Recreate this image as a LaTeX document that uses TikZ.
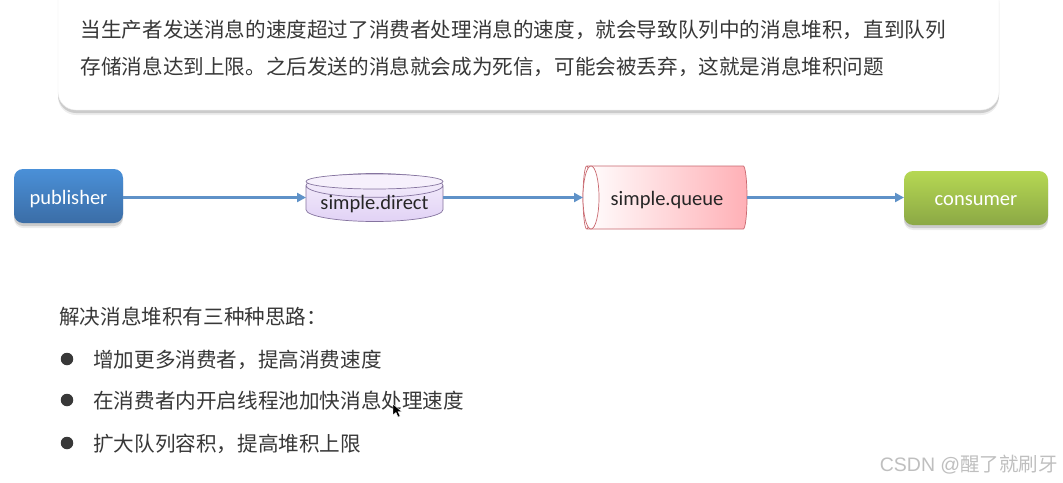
\documentclass[tikz,border=0pt]{standalone}
\usepackage{fontspec}
\setmainfont{Carlito}
\newfontfamily\cjk{Noto Sans CJK SC}
\newfontfamily\marksans{Liberation Sans}
\usetikzlibrary{shapes.geometric,arrows.meta,shadows}
\definecolor{linkblue}{HTML}{5F92C8}
\definecolor{inktext}{HTML}{383838}
\definecolor{pubtop}{HTML}{4A90D8}
\definecolor{pubbot}{HTML}{3B6DA6}
\definecolor{contop}{HTML}{B6D853}
\definecolor{conbot}{HTML}{8BA845}
\definecolor{dirtop}{HTML}{F6F0FC}
\definecolor{dirbot}{HTML}{E1D2F5}
\definecolor{dirline}{HTML}{85749F}
\definecolor{quepink}{HTML}{FFB0B6}
\definecolor{queline}{HTML}{C9686F}
\tikzset{
	softshadow/.style={general shadow={shadow xshift=0pt,shadow yshift=-5pt,fill=black,opacity=.07},
		general shadow={shadow xshift=0pt,shadow yshift=-3pt,fill=black,opacity=.14}},
	rolebox/.style={rounded corners=9pt,softshadow,text=white,font=\fontsize{20.5}{22}\selectfont,
		inner sep=0pt,outer sep=0pt,minimum height=54pt,text depth=0pt},
	link/.style={draw=linkblue,line width=2.6pt,-{Triangle[length=9pt,width=9pt]}},
	bodytext/.style={anchor=west,inner sep=0pt,text=inktext,font=\cjk\fontsize{20.6}{24}\selectfont},
	bullet/.style={circle,fill=inktext,inner sep=0pt,minimum size=12.5pt},
	barrel/.style={cylinder,anchor=shape center,inner sep=0pt,outer sep=0pt,text=black!85,
		font=\fontsize{20.5}{22}\selectfont,line width=.7pt},
}
\begin{document}
\begin{tikzpicture}[x=1pt,y=-1pt]
	\useasboundingbox[fill=white] (0,0) rectangle (1063,482);
	\begin{scope}
		\clip (0,0) rectangle (1063,482);
		\node[draw=black!8,fill=white,rounded corners=18pt,minimum width=941pt,minimum height=130pt,
			inner sep=0pt,outer sep=0pt,softshadow] (notebox) at (528.5,45) {};
	\end{scope}
	\node[bodytext] (lineone) at (80.5,30) {当生产者发送消息的速度超过了消费者处理消息的速度，就会导致队列中的消息堆积，直到队列};
	\node[bodytext] (linetwo) at (80.5,67) {存储消息达到上限。之后发送的消息就会成为死信，可能会被丢弃，这就是消息堆积问题};
	% the three boxes of the flow
	\node[rolebox,top color=pubtop,bottom color=pubbot,minimum width=109pt,text height=16pt] (publisher) at (68.5,196) {publisher};
	\node[barrel,shape border rotate=90,aspect=.22,minimum width=137pt,minimum height=47pt,draw=dirline,
		top color=dirtop,bottom color=dirbot,text height=12pt,text depth=0pt] (direct) at (374.5,197.5) {simple.direct};
	\draw[dirline,line width=.7pt,fill=dirtop] (374.5,181.5) ellipse (68.5 and 7.5);
	\node[barrel,shape border rotate=180,aspect=.5,minimum width=63pt,minimum height=164pt,draw=queline,
		left color=white,right color=quepink,text height=15pt,text depth=0pt] (queue) at (665,197.5) {simple.queue};
	\draw[queline,line width=.7pt,fill=white] (591,197.5) ellipse (8 and 31.5);
	\node[rolebox,top color=contop,bottom color=conbot,minimum width=144pt,text height=14pt] (consumer) at (976,198) {consumer};
	\coordinate (directin) at (direct.shape center -| direct.west);
	\coordinate (directout) at (direct.shape center -| direct.east);
	\draw[link] (publisher.east |- directin) -- (directin);
	\draw[link] (directout) -- (directout -| queue.west);
	\draw[link] (queue.east) -- (queue.east -| consumer.west);
	% list below the flow
	\node[bodytext] (intro) at (59,317) {解决消息堆积有三种种思路：};
	\foreach \name/\ypos/\words in {a/359/增加更多消费者，提高消费速度,b/400/在消费者内开启线程池加快消息处理速度,c/443/扩大队列容积，提高堆积上限}{
		\node[bullet] (dot\name) at (67,\ypos) {};
		\node[bodytext] (item\name) at (93,\ypos+1) {\words};
	}
	% mouse pointer
	\fill[black,draw=white,line width=.4pt] (393,404)--(393,415)--(396,412.5)--(398,417)--(400,416)--(398,411.5)--(401.5,411.5)--cycle;
	\node[anchor=east,inner sep=0pt,text=black!25,font=\fontsize{19.5}{22}\selectfont] (mark) at (1058,465) {\marksans CSDN @\cjk 醒了就刷牙};
\end{tikzpicture}
\end{document}
